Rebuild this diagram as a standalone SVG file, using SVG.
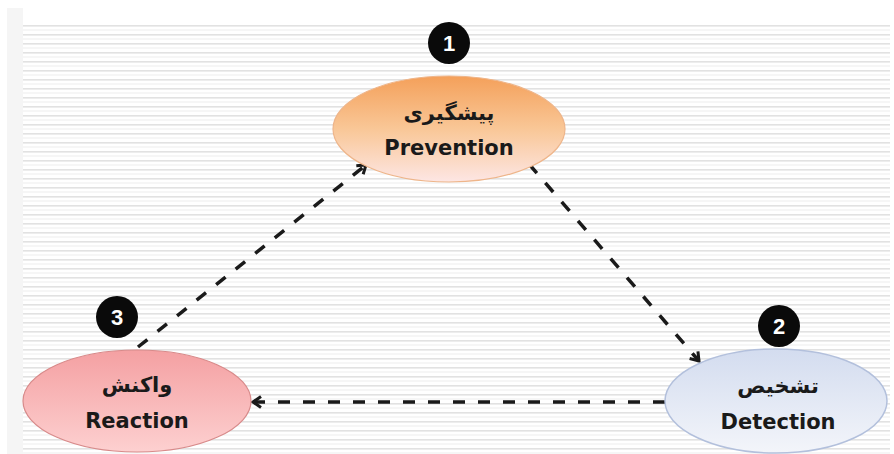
<svg xmlns="http://www.w3.org/2000/svg" width="894" height="454" viewBox="0 0 894 454">
  <defs>
    <pattern id="stripes" x="0" y="25" width="10" height="9" patternUnits="userSpaceOnUse">
      <rect x="0" y="0" width="10" height="9" fill="#ffffff"/>
      <rect x="0" y="0" width="10" height="1.6" fill="#e2e2e2"/>
      <rect x="0" y="4.5" width="10" height="1" fill="#eeeeee"/>
    </pattern>
    <linearGradient id="gPrev" x1="0" y1="0" x2="0" y2="1">
      <stop offset="0" stop-color="#F4A05A"/>
      <stop offset="0.5" stop-color="#F9C797"/>
      <stop offset="1" stop-color="#FDE6E4"/>
    </linearGradient>
    <linearGradient id="gReac" x1="0" y1="0" x2="0" y2="1">
      <stop offset="0" stop-color="#F4A0A2"/>
      <stop offset="1" stop-color="#FDD0D0"/>
    </linearGradient>
    <linearGradient id="gDet" x1="0" y1="0" x2="0" y2="1">
      <stop offset="0" stop-color="#D3DCEF"/>
      <stop offset="1" stop-color="#F3F5FA"/>
    </linearGradient>
    <marker id="arrow" markerWidth="14" markerHeight="14" refX="10" refY="7" orient="auto" markerUnits="userSpaceOnUse">
      <path d="M2,1.5 L10,7 L2,12.5" fill="none" stroke="#1a1a1a" stroke-width="3" stroke-linejoin="miter"/>
    </marker>
    <style>
      .conn { fill: none; stroke: #1a1a1a; stroke-width: 3.5; stroke-dasharray: 12 13; marker-end: url(#arrow); }
      .badge { fill: #0a0a0a; }
      .num { font-family: "Liberation Sans", Arial, sans-serif; font-weight: bold; font-size: 22px; fill: #ffffff; text-anchor: middle; }
      .fa { font-family: "DejaVu Sans", sans-serif; font-weight: bold; font-size: 21px; fill: #1a1a1a; text-anchor: middle; }
      .en { font-family: "DejaVu Sans", Verdana, sans-serif; font-weight: bold; font-size: 21px; fill: #1a1a1a; text-anchor: middle; }
    </style>
  </defs>

  <!-- background -->
  <rect x="0" y="0" width="894" height="454" fill="#ffffff"/>
  <rect x="7" y="8" width="16" height="446" fill="#f5f5f5"/>
  <rect x="23" y="25" width="867" height="429" fill="url(#stripes)"/>

  <g id="connectors">
    <path class="conn" d="M138,347 L366,165"/>
    <path class="conn" d="M529,164 L699,361"/>
    <path class="conn" d="M665,402 L253,402"/>
  </g>

  <g id="prevention">
    <ellipse cx="449" cy="129" rx="116" ry="53" fill="url(#gPrev)" stroke="#EEB58A" stroke-width="1.2"/>
    <text class="fa" x="449" y="120">پیشگیری</text>
    <text class="en" x="449" y="155">Prevention</text>
  </g>

  <g id="detection">
    <ellipse cx="776" cy="401" rx="111" ry="52" fill="url(#gDet)" stroke="#B3C0DC" stroke-width="1.5"/>
    <text class="fa" x="778" y="393">تشخیص</text>
    <text class="en" x="778" y="429">Detection</text>
  </g>

  <g id="reaction">
    <ellipse cx="137" cy="401" rx="114" ry="51" fill="url(#gReac)" stroke="#D88A8A" stroke-width="1.2"/>
    <text class="fa" x="137" y="392">واکنش</text>
    <text class="en" x="137" y="428">Reaction</text>
  </g>

  <g id="badge1">
    <circle class="badge" cx="449" cy="43" r="21"/>
    <text class="num" x="449" y="51">1</text>
  </g>
  <g id="badge2">
    <circle class="badge" cx="779" cy="326" r="21"/>
    <text class="num" x="779" y="334">2</text>
  </g>
  <g id="badge3">
    <circle class="badge" cx="117" cy="317" r="21"/>
    <text class="num" x="117" y="325">3</text>
  </g>
</svg>
